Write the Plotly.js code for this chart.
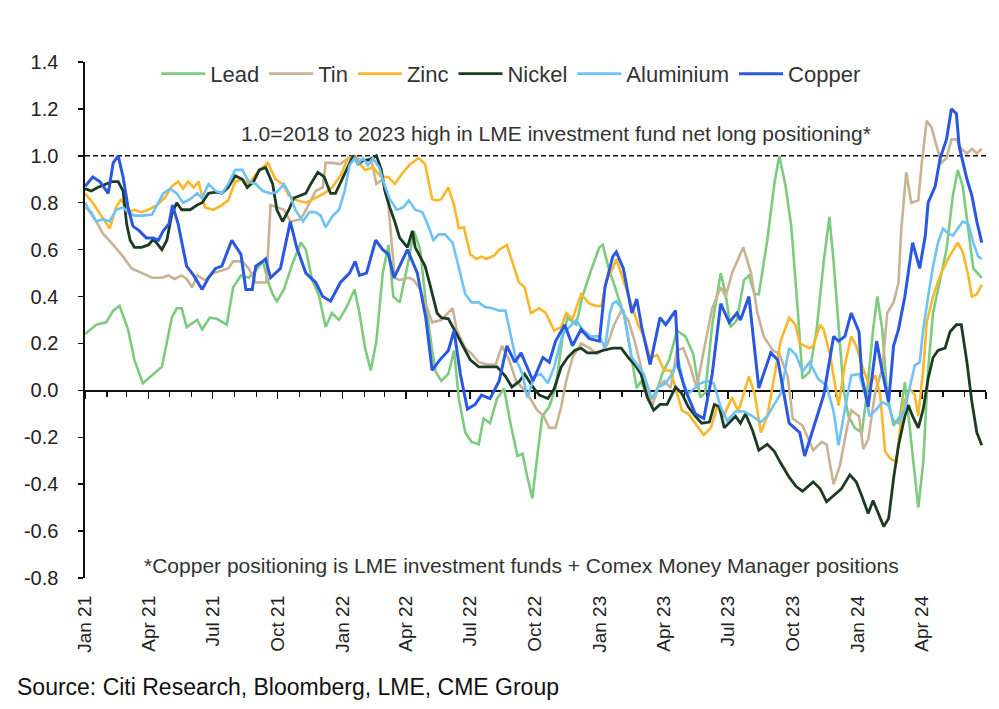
<!DOCTYPE html>
<html>
<head>
<meta charset="utf-8">
<script src="https://cdn.plot.ly/plotly-3.0.1.min.js"></script>
<style>
  html, body { margin: 0; padding: 0; background: #ffffff; }
  #chart { width: 999px; height: 709px; }
</style>
</head>
<body>
<div id="chart"></div>
<script>
// LME investment fund net long positioning, scaled so 1.0 = 2018-2023 high

const seriesNames = ["Lead", "Tin", "Zinc", "Nickel", "Aluminium", "Copper"];

const leadDates = [
  "2021-01-01","2021-01-17","2021-01-31","2021-02-10","2021-02-19","2021-03-03","2021-03-12","2021-03-24",
  "2021-04-08","2021-04-20","2021-05-04","2021-05-11","2021-05-18","2021-05-25","2021-06-09","2021-06-16",
  "2021-06-27","2021-07-07","2021-07-21","2021-07-30","2021-08-10","2021-08-21","2021-08-31","2021-09-10",
  "2021-09-19","2021-09-24","2021-09-30","2021-10-10","2021-10-22","2021-11-03","2021-11-10","2021-11-19",
  "2021-11-29","2021-12-08","2021-12-17","2021-12-27",
  "2022-01-06","2022-01-18","2022-01-25","2022-02-02","2022-02-10","2022-02-18","2022-02-27","2022-03-07",
  "2022-03-14","2022-03-23","2022-04-05","2022-04-12","2022-04-21","2022-04-30","2022-05-08","2022-05-13",
  "2022-05-21","2022-05-31","2022-06-08","2022-06-15","2022-06-24","2022-07-03","2022-07-13","2022-07-20",
  "2022-07-29","2022-08-08","2022-08-18","2022-08-27","2022-09-06","2022-09-13","2022-09-20","2022-09-27",
  "2022-10-04","2022-10-11","2022-10-21","2022-10-30","2022-11-09","2022-11-16","2022-11-28","2022-12-07",
  "2022-12-19","2022-12-31",
  "2023-01-05","2023-01-14","2023-01-19","2023-01-26","2023-02-05","2023-02-15","2023-02-22","2023-02-28",
  "2023-03-11","2023-03-20","2023-03-30","2023-04-09","2023-04-20","2023-05-02","2023-05-13","2023-05-23",
  "2023-05-30","2023-06-09","2023-06-21","2023-06-28","2023-07-05","2023-07-14","2023-07-24","2023-07-31",
  "2023-08-08","2023-08-14","2023-08-26","2023-09-05","2023-09-12","2023-09-21","2023-09-29","2023-10-08",
  "2023-10-15","2023-10-25","2023-11-04","2023-11-14","2023-11-22","2023-11-28","2023-12-05","2023-12-12",
  "2023-12-19","2023-12-28",
  "2024-01-07","2024-01-14","2024-01-23","2024-01-29","2024-02-05","2024-02-12","2024-02-21","2024-03-01",
  "2024-03-08","2024-03-15","2024-03-22","2024-03-27","2024-04-03","2024-04-10","2024-04-17","2024-04-27",
  "2024-05-06","2024-05-15","2024-05-22","2024-05-29","2024-06-06","2024-06-13","2024-06-25"
];
const leadValues = [
  0.24, 0.28, 0.29, 0.34, 0.36, 0.26, 0.13, 0.03,
  0.07, 0.10, 0.31, 0.35, 0.35, 0.27, 0.30, 0.26,
  0.31, 0.305, 0.28, 0.44, 0.49, 0.48, 0.51, 0.55,
  0.45, 0.41, 0.38, 0.43, 0.54, 0.63, 0.60, 0.47,
  0.40, 0.27, 0.33, 0.30,
  0.35, 0.43, 0.33, 0.18, 0.085, 0.21, 0.50, 0.62,
  0.40, 0.375, 0.56, 0.68, 0.60, 0.35, 0.17, 0.08,
  0.04, 0.07, 0.17, -0.04, -0.18, -0.22, -0.23, -0.12,
  -0.14, -0.035, 0.007, -0.14, -0.28, -0.27, -0.37, -0.46,
  -0.28, -0.11, -0.07, 0.01, 0.23, 0.31, 0.28, 0.40,
  0.51, 0.61,
  0.62, 0.51, 0.47, 0.40, 0.31, 0.13, 0.01, 0.04,
  -0.04, -0.03, 0.07, 0.13, 0.255, 0.23, 0.156, -0.03,
  -0.01, 0.28, 0.50, 0.41, 0.27, 0.30, 0.47, 0.49,
  0.41, 0.41, 0.64, 0.88, 1.00, 0.87, 0.70, 0.35,
  0.05, 0.08, 0.26, 0.55, 0.74, 0.55, 0.26, 0.007,
  -0.11, -0.16,
  -0.18, -0.02, 0.26, 0.40, 0.26, -0.02, -0.15, -0.11,
  0.035, -0.16, -0.38, -0.50, -0.31, 0.09, 0.33, 0.48,
  0.60, 0.83, 0.94, 0.87, 0.69, 0.52, 0.48
];

const tinDates = [
  "2021-01-01","2021-01-10","2021-01-17","2021-01-26","2021-02-10","2021-02-24","2021-03-08","2021-03-22",
  "2021-04-06","2021-04-20","2021-04-29","2021-05-08","2021-05-18","2021-05-25","2021-06-02","2021-06-09",
  "2021-06-20","2021-07-02","2021-07-14","2021-07-23","2021-07-30","2021-08-12","2021-08-21","2021-08-31",
  "2021-09-10","2021-09-15","2021-09-21","2021-09-30","2021-10-10","2021-10-19","2021-11-03","2021-11-12",
  "2021-11-24","2021-12-04","2021-12-08","2021-12-17","2021-12-29",
  "2022-01-09","2022-01-18","2022-01-27","2022-02-11","2022-02-18","2022-02-27","2022-03-07","2022-03-12",
  "2022-03-16","2022-03-23","2022-04-05","2022-04-12","2022-04-21","2022-04-30","2022-05-08","2022-05-21",
  "2022-06-06","2022-06-12","2022-06-24","2022-07-03","2022-07-13","2022-07-25","2022-08-06","2022-08-15",
  "2022-08-25","2022-09-04","2022-09-16","2022-09-25","2022-10-04","2022-10-13","2022-10-21","2022-10-30",
  "2022-11-07","2022-11-14","2022-11-23","2022-12-05","2022-12-17","2022-12-28",
  "2023-01-08","2023-01-12","2023-01-21","2023-01-31","2023-02-10","2023-02-19","2023-02-28","2023-03-09",
  "2023-03-16","2023-03-23","2023-04-02","2023-04-11","2023-04-20","2023-04-29","2023-05-09","2023-05-18",
  "2023-05-28","2023-06-09","2023-06-21","2023-06-28","2023-07-07","2023-07-16","2023-07-23","2023-08-03",
  "2023-08-12","2023-08-21","2023-09-03","2023-09-12","2023-09-24","2023-10-01","2023-10-15","2023-10-30",
  "2023-11-11","2023-11-18","2023-11-28","2023-12-07","2023-12-17","2023-12-23",
  "2024-01-03","2024-01-09","2024-01-16","2024-01-26","2024-02-05","2024-02-12","2024-02-21","2024-02-28",
  "2024-03-03","2024-03-10","2024-03-17","2024-03-27","2024-04-01","2024-04-08","2024-04-15","2024-04-22",
  "2024-04-29","2024-05-06","2024-05-13","2024-05-20","2024-05-27","2024-06-04","2024-06-11","2024-06-18",
  "2024-06-25"
];
const tinValues = [
  0.78, 0.76, 0.72, 0.67, 0.62, 0.57, 0.52, 0.50,
  0.48, 0.48, 0.49, 0.475, 0.49, 0.475, 0.44, 0.49,
  0.47, 0.50, 0.51, 0.52, 0.55, 0.55, 0.52, 0.46,
  0.46, 0.46, 0.79, 0.78, 0.77, 0.72, 0.73, 0.78,
  0.85, 0.865, 0.97, 0.97, 0.965,
  0.99, 1.00, 0.98, 0.98, 0.88, 0.90, 0.79, 0.60,
  0.48, 0.47, 0.48, 0.47, 0.43, 0.36, 0.29, 0.30,
  0.35, 0.255, 0.18, 0.156, 0.12, 0.11, 0.11, 0.19,
  0.13, 0.04, 0.00, -0.04, -0.085, -0.11, -0.16, -0.16,
  -0.07, 0.04, 0.14, 0.20, 0.18, 0.156,
  0.18, 0.20, 0.28, 0.34, 0.30, 0.21, 0.10, -0.01,
  -0.07, 0.01, 0.04, 0.01, 0.17, 0.18, 0.10, 0.01,
  0.17, 0.35, 0.44, 0.40, 0.50, 0.56, 0.61, 0.50,
  0.33, 0.23, 0.17, 0.156, 0.06, -0.12, -0.15, -0.255,
  -0.22, -0.23, -0.40, -0.32, -0.16, -0.085,
  -0.11, -0.25, -0.21, -0.007, 0.09, 0.33, 0.375, 0.46,
  0.69, 0.93, 0.80, 0.81, 0.97, 1.15, 1.12, 1.04,
  0.97, 0.99, 1.07, 1.07, 1.03, 1.01, 1.03, 1.01,
  1.03
];

const zincDates = [
  "2021-01-01","2021-01-12","2021-01-24","2021-02-05","2021-02-14","2021-02-21","2021-03-03","2021-03-12",
  "2021-03-22","2021-04-01","2021-04-13","2021-04-24","2021-05-04","2021-05-13","2021-05-20","2021-05-27",
  "2021-06-04","2021-06-11","2021-06-20","2021-07-02","2021-07-14","2021-07-23","2021-08-02","2021-08-12",
  "2021-08-21","2021-08-31","2021-09-10","2021-09-17","2021-09-28","2021-10-08","2021-10-17","2021-10-28",
  "2021-11-10","2021-11-24","2021-12-06","2021-12-17","2021-12-29",
  "2022-01-09","2022-01-20","2022-02-02","2022-02-13","2022-02-25","2022-03-07","2022-03-16","2022-03-28",
  "2022-04-07","2022-04-19","2022-04-28","2022-05-08","2022-05-15","2022-05-21","2022-05-31","2022-06-08",
  "2022-06-15","2022-06-22","2022-07-01","2022-07-10","2022-07-17","2022-07-24","2022-08-04","2022-08-11",
  "2022-08-22","2022-08-29","2022-09-08","2022-09-16","2022-09-25","2022-10-07","2022-10-16","2022-10-28",
  "2022-11-07","2022-11-14","2022-11-23","2022-12-05","2022-12-17","2022-12-26",
  "2023-01-03","2023-01-10","2023-01-19","2023-01-24","2023-02-03","2023-02-15","2023-02-24","2023-03-04",
  "2023-03-13","2023-03-23","2023-04-02","2023-04-11","2023-04-20","2023-04-27","2023-05-06","2023-05-16",
  "2023-05-28","2023-06-07","2023-06-16","2023-06-25","2023-07-07","2023-07-16","2023-07-31","2023-08-08",
  "2023-08-17","2023-08-26","2023-09-05","2023-09-14","2023-09-26","2023-10-05","2023-10-11","2023-10-25",
  "2023-10-30","2023-11-09","2023-11-14","2023-11-23","2023-12-05","2023-12-14","2023-12-23","2023-12-30",
  "2024-01-09","2024-01-18","2024-01-26","2024-02-02","2024-02-09","2024-02-16","2024-02-25","2024-03-05",
  "2024-03-15","2024-03-22","2024-03-27","2024-04-03","2024-04-08","2024-04-17","2024-04-27","2024-05-08",
  "2024-05-22","2024-05-29","2024-06-06","2024-06-11","2024-06-18","2024-06-25"
];
const zincValues = [
  0.84, 0.80, 0.745, 0.69, 0.78, 0.815, 0.76, 0.77,
  0.76, 0.77, 0.79, 0.82, 0.87, 0.89, 0.86, 0.89,
  0.865, 0.89, 0.78, 0.77, 0.79, 0.81, 0.89, 0.90,
  0.88, 0.92, 0.95, 0.97, 0.90, 0.88, 0.83, 0.81,
  0.80, 0.82, 0.84, 0.865, 0.915,
  0.99, 0.985, 0.94, 0.95, 0.91, 0.91, 0.88, 0.93,
  0.965, 0.99, 0.965, 0.815, 0.81, 0.815, 0.865, 0.79,
  0.69, 0.695, 0.58, 0.56, 0.57, 0.56, 0.575, 0.60,
  0.62, 0.55, 0.46, 0.44, 0.33, 0.35, 0.33, 0.255,
  0.27, 0.33, 0.305, 0.41, 0.37, 0.36,
  0.36, 0.47, 0.52, 0.56, 0.47, 0.37, 0.28, 0.23,
  0.14, 0.15, 0.085, 0.085, -0.014, -0.085, -0.10, -0.14,
  -0.19, -0.16, -0.07, -0.11, -0.03, -0.09, 0.06, -0.014,
  -0.18, -0.11, 0.06, 0.21, 0.31, 0.28, 0.20, 0.18,
  0.19, 0.28, 0.26, 0.15, -0.065, 0.11, 0.23, 0.19,
  0.09, 0.02, 0.064, -0.02, -0.26, -0.29, -0.305, -0.065,
  0.007, -0.02, -0.11, 0.09, 0.29, 0.40, 0.49, 0.56,
  0.63, 0.59, 0.49, 0.40, 0.41, 0.45
];

const nickelDates = [
  "2021-01-01","2021-01-10","2021-01-19","2021-01-31","2021-02-08","2021-02-17","2021-02-24","2021-03-01",
  "2021-03-06","2021-03-12","2021-03-22","2021-04-01","2021-04-08","2021-04-20","2021-04-27","2021-05-04",
  "2021-05-11","2021-05-18","2021-05-30","2021-06-09","2021-06-16","2021-06-25","2021-07-05","2021-07-14",
  "2021-07-23","2021-08-02","2021-08-12","2021-08-19","2021-08-28","2021-09-05","2021-09-14","2021-09-24",
  "2021-09-30","2021-10-08","2021-10-17","2021-10-24","2021-11-01","2021-11-10","2021-11-17","2021-11-27",
  "2021-12-06","2021-12-15","2021-12-22",
  "2022-01-02","2022-01-11","2022-01-16","2022-01-23","2022-01-30","2022-02-09","2022-02-18","2022-02-25",
  "2022-03-02","2022-03-09","2022-03-16","2022-03-23","2022-04-03","2022-04-10","2022-04-14","2022-04-21",
  "2022-04-28","2022-05-05","2022-05-15","2022-05-21","2022-05-31","2022-06-10","2022-06-22","2022-07-01",
  "2022-07-13","2022-07-27","2022-08-08","2022-08-20","2022-08-29","2022-09-09","2022-09-16","2022-09-28",
  "2022-10-07","2022-10-19","2022-10-28","2022-11-07","2022-11-16","2022-11-26","2022-12-05","2022-12-14",
  "2022-12-26",
  "2023-01-05","2023-01-19","2023-01-31","2023-02-10","2023-02-19","2023-02-28","2023-03-09","2023-03-18",
  "2023-03-27","2023-04-06","2023-04-18","2023-04-27","2023-05-06","2023-05-16","2023-05-25","2023-06-05",
  "2023-06-12","2023-06-19","2023-06-26","2023-07-05","2023-07-12","2023-07-19","2023-07-26","2023-08-05",
  "2023-08-14","2023-08-26","2023-09-05","2023-09-14","2023-09-26","2023-10-06","2023-10-15","2023-10-30",
  "2023-11-09","2023-11-18","2023-11-28","2023-12-09","2023-12-21","2023-12-30",
  "2024-01-07","2024-01-16","2024-01-23","2024-01-30","2024-02-07","2024-02-14","2024-02-21","2024-02-28",
  "2024-03-08","2024-03-13","2024-03-19","2024-03-27","2024-04-03","2024-04-10","2024-04-17","2024-04-24",
  "2024-05-04","2024-05-11","2024-05-20","2024-05-27","2024-06-04","2024-06-11","2024-06-18","2024-06-25"
];
const nickelValues = [
  0.86, 0.85, 0.865, 0.88, 0.89, 0.89, 0.85, 0.71,
  0.64, 0.61, 0.61, 0.62, 0.645, 0.60, 0.64, 0.75,
  0.80, 0.77, 0.77, 0.79, 0.80, 0.84, 0.845, 0.84,
  0.865, 0.915, 0.90, 0.865, 0.89, 0.94, 0.95, 0.88,
  0.77, 0.72, 0.77, 0.82, 0.83, 0.84, 0.88, 0.93,
  0.91, 0.84, 0.84,
  0.91, 0.97, 1.00, 0.965, 0.98, 0.985, 1.00, 0.94,
  0.85, 0.78, 0.72, 0.65, 0.61, 0.68, 0.61, 0.57,
  0.53, 0.45, 0.33, 0.31, 0.305, 0.25, 0.18, 0.13,
  0.10, 0.10, 0.10, 0.06, 0.014, 0.04, 0.07, 0.014,
  -0.02, -0.035, 0.007, 0.10, 0.14, 0.17, 0.18, 0.16,
  0.16,
  0.17, 0.18, 0.18, 0.14, 0.11, 0.07, -0.03, -0.085,
  -0.06, -0.06, 0.014, -0.014, -0.07, -0.11, -0.14, -0.135,
  -0.06, -0.07, -0.16, -0.13, -0.11, -0.14, -0.10, -0.17,
  -0.255, -0.23, -0.26, -0.31, -0.37, -0.41, -0.43, -0.39,
  -0.42, -0.475, -0.45, -0.42, -0.36, -0.39,
  -0.45, -0.525, -0.47, -0.525, -0.58, -0.546, -0.376, -0.234,
  -0.11, -0.064, -0.11, -0.16, -0.08, 0.05, 0.14, 0.17,
  0.18, 0.25, 0.28, 0.28, 0.12, -0.05, -0.18, -0.234
];

const aluminiumDates = [
  "2021-01-01","2021-01-08","2021-01-17","2021-01-26","2021-02-05","2021-02-14","2021-02-24","2021-03-03",
  "2021-03-12","2021-03-24","2021-04-06","2021-04-13","2021-04-22","2021-05-02","2021-05-11","2021-05-20",
  "2021-05-30","2021-06-09","2021-06-16","2021-06-25","2021-07-05","2021-07-14","2021-07-23","2021-08-02",
  "2021-08-12","2021-08-21","2021-08-31","2021-09-10","2021-09-21","2021-09-30","2021-10-10","2021-10-19",
  "2021-10-26","2021-11-06","2021-11-15","2021-11-24","2021-12-01","2021-12-08","2021-12-17","2021-12-27",
  "2022-01-04","2022-01-11","2022-01-18","2022-01-23","2022-01-30","2022-02-06","2022-02-13","2022-02-22",
  "2022-03-01","2022-03-09","2022-03-19","2022-03-28","2022-04-05","2022-04-14","2022-04-24","2022-04-30",
  "2022-05-10","2022-05-17","2022-05-26","2022-06-06","2022-06-15","2022-06-24","2022-07-03","2022-07-13",
  "2022-07-22","2022-08-01","2022-08-11","2022-08-20","2022-08-27","2022-09-04","2022-09-13","2022-09-20",
  "2022-09-30","2022-10-09","2022-10-19","2022-10-28","2022-11-09","2022-11-19","2022-11-28","2022-12-07",
  "2022-12-19","2022-12-31",
  "2023-01-08","2023-01-15","2023-01-19","2023-01-24","2023-02-03","2023-02-15","2023-02-24","2023-03-04",
  "2023-03-15","2023-03-25","2023-04-04","2023-04-13","2023-04-22","2023-04-29","2023-05-06","2023-05-16",
  "2023-05-23","2023-06-02","2023-06-11","2023-06-21","2023-06-30","2023-07-12","2023-07-24","2023-08-05",
  "2023-08-17","2023-08-26","2023-09-05","2023-09-14","2023-09-26","2023-10-06","2023-10-15","2023-10-25",
  "2023-11-06","2023-11-18","2023-11-28","2023-12-05","2023-12-14","2023-12-23",
  "2024-01-03","2024-01-12","2024-01-18","2024-01-28","2024-02-05","2024-02-14","2024-02-21","2024-02-28",
  "2024-03-08","2024-03-15","2024-03-22","2024-03-29","2024-04-03","2024-04-10","2024-04-17","2024-04-24",
  "2024-05-01","2024-05-08","2024-05-15","2024-05-22","2024-05-29","2024-06-06","2024-06-13","2024-06-20",
  "2024-06-25"
];
const aluminiumValues = [
  0.80, 0.76, 0.72, 0.73, 0.72, 0.77, 0.78, 0.76,
  0.745, 0.745, 0.75, 0.79, 0.84, 0.86, 0.84, 0.80,
  0.815, 0.84, 0.82, 0.88, 0.85, 0.84, 0.88, 0.94,
  0.94, 0.89, 0.88, 0.85, 0.84, 0.845, 0.88, 0.83,
  0.77, 0.72, 0.76, 0.76, 0.745, 0.695, 0.74, 0.77,
  0.85, 0.96, 0.99, 0.965, 0.99, 0.96, 0.99, 0.95,
  0.88, 0.815, 0.77, 0.78, 0.81, 0.77, 0.76, 0.72,
  0.64, 0.665, 0.665, 0.63, 0.52, 0.41, 0.375, 0.375,
  0.355, 0.35, 0.34, 0.34, 0.24, 0.13, 0.07, -0.03,
  0.06, 0.07, 0.03, 0.10, 0.24, 0.27, 0.30, 0.26,
  0.23, 0.23,
  0.18, 0.33, 0.37, 0.38, 0.34, 0.14, 0.10, 0.07,
  -0.035, 0.014, 0.03, 0.07, 0.13, 0.03, -0.014, 0.014,
  0.03, 0.04, 0.03, -0.07, -0.13, -0.09, -0.09, -0.11,
  -0.135, -0.11, -0.06, -0.014, 0.18, 0.15, 0.08, 0.12,
  0.05, 0.02, -0.09, -0.234, -0.08, 0.064,
  0.07, -0.02, -0.11, -0.08, -0.05, -0.064, -0.13, -0.14,
  -0.08, 0.007, 0.106, 0.12, 0.26, 0.40, 0.53, 0.63,
  0.69, 0.67, 0.66, 0.69, 0.72, 0.71, 0.63, 0.57,
  0.56
];

// Copper: LME investment funds + Comex Money Manager positions
const copperDates = [
  "2021-01-01","2021-01-12","2021-01-22","2021-02-03","2021-02-10","2021-02-17","2021-02-24","2021-03-03",
  "2021-03-10","2021-03-19","2021-03-29","2021-04-08","2021-04-15","2021-04-22","2021-04-30","2021-05-05",
  "2021-05-13","2021-05-25","2021-06-04","2021-06-16","2021-06-25","2021-07-05","2021-07-14","2021-07-28",
  "2021-08-10","2021-08-17","2021-08-26","2021-08-31","2021-09-10","2021-09-14","2021-09-21","2021-10-05",
  "2021-10-19","2021-10-28","2021-11-10","2021-11-24","2021-12-04","2021-12-15","2021-12-29",
  "2022-01-11","2022-01-19","2022-01-25","2022-02-04","2022-02-17","2022-02-27","2022-03-07","2022-03-15",
  "2022-04-03","2022-04-17","2022-04-29","2022-05-08","2022-05-19","2022-05-31","2022-06-08","2022-06-17",
  "2022-06-27","2022-07-08","2022-07-17","2022-07-29","2022-08-11","2022-08-22","2022-09-02","2022-09-11",
  "2022-09-28","2022-10-12","2022-10-21","2022-10-30","2022-11-12","2022-11-23","2022-12-05","2022-12-17",
  "2022-12-31",
  "2023-01-08","2023-01-19","2023-01-24","2023-02-03","2023-02-15","2023-02-22","2023-03-01","2023-03-13",
  "2023-03-27","2023-04-04","2023-04-18","2023-04-22","2023-05-02","2023-05-16","2023-05-28","2023-06-09",
  "2023-06-21","2023-07-03","2023-07-14","2023-07-19","2023-07-31","2023-08-14","2023-08-31","2023-09-10",
  "2023-09-26","2023-10-11","2023-10-18","2023-10-30","2023-11-14","2023-11-28","2023-12-05","2023-12-14",
  "2023-12-23",
  "2024-01-03","2024-01-07","2024-01-16","2024-01-28","2024-02-05","2024-02-14","2024-02-21","2024-02-28",
  "2024-03-08","2024-03-19","2024-03-29","2024-04-06","2024-04-10","2024-04-20","2024-04-27","2024-05-06",
  "2024-05-13","2024-05-20","2024-05-24","2024-06-04","2024-06-11","2024-06-18","2024-06-25"
];
const copperValues = [
  0.87, 0.91, 0.89, 0.84, 0.97, 1.00, 0.91, 0.78,
  0.70, 0.68, 0.65, 0.65, 0.64, 0.68, 0.71, 0.79,
  0.71, 0.53, 0.49, 0.43, 0.48, 0.52, 0.53, 0.64,
  0.58, 0.43, 0.43, 0.53, 0.55, 0.56, 0.48, 0.52,
  0.72, 0.61, 0.50, 0.46, 0.40, 0.38, 0.46,
  0.50, 0.55, 0.49, 0.50, 0.64, 0.60, 0.58, 0.48,
  0.60, 0.50, 0.31, 0.085, 0.13, 0.17, 0.255, 0.07,
  -0.08, -0.06, -0.02, -0.035, 0.04, 0.19, 0.12, 0.16,
  0.04, 0.14, 0.12, 0.21, 0.28, 0.19, 0.26, 0.22,
  0.21,
  0.44, 0.57, 0.59, 0.52, 0.33, 0.39, 0.27, 0.11,
  0.31, 0.28, 0.34, 0.10, 0.00, -0.10, -0.12, 0.07,
  0.37, 0.29, 0.33, 0.30, 0.40, 0.01, 0.16, 0.13,
  -0.14, -0.18, -0.28, -0.16, -0.02, 0.23, 0.21, 0.23,
  0.33,
  0.25, 0.06, -0.07, 0.21, 0.08, -0.05, 0.19, 0.26,
  0.40, 0.63, 0.52, 0.66, 0.80, 0.87, 0.99, 1.07,
  1.20, 1.18, 1.04, 0.90, 0.83, 0.72, 0.63
];

const seriesDates = [leadDates, tinDates, zincDates, nickelDates, aluminiumDates, copperDates];
const seriesValues = [leadValues, tinValues, zincValues, nickelValues, aluminiumValues, copperValues];
const seriesColors = ["#7dcb7e", "#c8b394", "#fbb72b", "#1d3b24", "#6ec2f6", "#2a58de"];
const seriesWidths = [2.6, 2.6, 2.6, 2.8, 2.6, 3.0];

// quarterly date labels under the plot
const xTickVals = [
  "2021-01-01", "2021-04-01", "2021-07-01", "2021-10-01",
  "2022-01-01", "2022-04-01", "2022-07-01", "2022-10-01",
  "2023-01-01", "2023-04-01", "2023-07-01", "2023-10-01",
  "2024-01-01", "2024-04-01"
];
const xTickText = [
  "Jan 21", "Apr 21", "Jul 21", "Oct 21",
  "Jan 22", "Apr 22", "Jul 22", "Oct 22",
  "Jan 23", "Apr 23", "Jul 23", "Oct 23",
  "Jan 24", "Apr 24"
];

const yTickVals = [-0.8, -0.6, -0.4, -0.2, 0, 0.2, 0.4, 0.6, 0.8, 1.0, 1.2, 1.4];
const yTickText = ["-0.8", "-0.6", "-0.4", "-0.2", "0.0", "0.2", "0.4", "0.6", "0.8", "1.0", "1.2", "1.4"];

const xStart = "2021-01-01";
const xEnd = "2024-07-01";
const yMin = -0.8, yMax = 1.4;

const FONT = "'Liberation Sans', Arial, sans-serif";

const traces = seriesNames.map((name, i) => ({
  type: "scatter",
  mode: "lines",
  name: name,
  x: seriesDates[i],
  y: seriesValues[i],
  line: { color: seriesColors[i], width: seriesWidths[i], shape: "linear" },
  hoverinfo: "skip"
}));

// keep the y = 0 axis in place with an empty trace bound to it
traces.unshift({
  type: "scatter", mode: "lines", x: [], y: [], xaxis: "x2", yaxis: "y",
  showlegend: false, hoverinfo: "skip"
});

const layout = {
  width: 999,
  height: 709,
  margin: { l: 85, r: 13, t: 62, b: 131 },
  paper_bgcolor: "#ffffff",
  plot_bgcolor: "#ffffff",
  showlegend: true,
  font: { family: FONT, color: "#222222" },
  legend: {
    orientation: "h",
    x: 0.473, xanchor: "center",
    y: 0.977, yanchor: "middle",
    bgcolor: "rgba(0,0,0,0)",
    font: { family: FONT, size: 22, color: "#333333" },
    itemwidth: 44,
    traceorder: "normal"
  },
  xaxis: {
    type: "date",
    range: [xStart, xEnd],
    tickmode: "array",
    tickvals: xTickVals,
    ticktext: xTickText,
    tickangle: -90,
    ticks: "",
    showline: false,
    showgrid: false,
    zeroline: false,
    ticklabelstandoff: 13,
    tickfont: { family: FONT, size: 19, color: "#222222" }
  },
  // axis line drawn along y = 0, carrying the monthly tick marks
  xaxis2: {
    type: "date",
    overlaying: "x",
    anchor: "free",
    position: (0 - yMin) / (yMax - yMin),
    range: [xStart, xEnd],
    tick0: xStart,
    dtick: "M3",
    ticks: "outside",
    ticklen: 7,
    tickwidth: 1.5,
    tickcolor: "#111111",
    minor: { dtick: "M1", ticks: "outside", ticklen: 5, tickwidth: 1.3, tickcolor: "#111111" },
    showticklabels: false,
    showline: true,
    linecolor: "#111111",
    linewidth: 1.6,
    showgrid: false,
    zeroline: false,
    layer: "below traces"
  },
  yaxis: {
    range: [yMin, yMax],
    tickmode: "array",
    tickvals: yTickVals,
    ticktext: yTickText,
    ticks: "outside",
    ticklen: 5,
    tickwidth: 1.5,
    tickcolor: "#111111",
    showline: true,
    linecolor: "#111111",
    linewidth: 1.6,
    showgrid: false,
    zeroline: false,
    ticklabelstandoff: 16,
    tickfont: { family: FONT, size: 20, color: "#222222" }
  },
  shapes: [
    {
      type: "line", xref: "paper", yref: "y",
      x0: 0, x1: 1, y0: 1, y1: 1,
      line: { color: "#111111", width: 1.6, dash: "5px,3px" },
      layer: "below"
    }
  ],
  annotations: [
    {
      xref: "paper", yref: "paper", x: 0.523, y: 0.862,
      xanchor: "center", yanchor: "middle", showarrow: false,
      text: "1.0=2018 to 2023 high in LME investment fund net long positioning*",
      font: { family: FONT, size: 21, color: "#333333" }
    },
    {
      xref: "paper", yref: "paper", x: 0.484, y: 0.025,
      xanchor: "center", yanchor: "middle", showarrow: false,
      text: "*Copper positioning is LME investment funds + Comex Money Manager positions",
      font: { family: FONT, size: 21, color: "#333333" }
    },
    {
      xref: "paper", yref: "paper", x: -0.0777, y: -0.211,
      xanchor: "left", yanchor: "middle", showarrow: false,
      text: "Source: Citi Research, Bloomberg, LME, CME Group",
      font: { family: FONT, size: 23, color: "#111111" }
    }
  ]
};

Plotly.newPlot("chart", traces, layout, { displayModeBar: false, staticPlot: true });
</script>
</body>
</html>
